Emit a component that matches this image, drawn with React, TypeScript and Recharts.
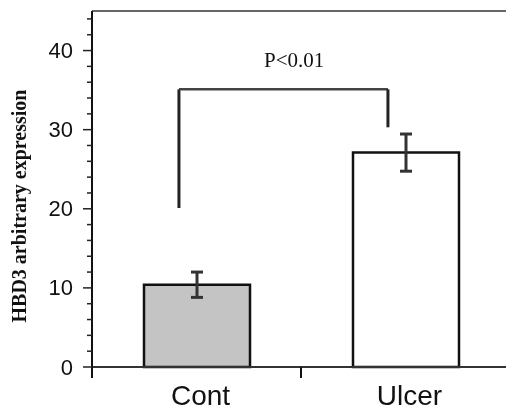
import React from 'react';
import { ComposedChart, Bar, XAxis, YAxis, ErrorBar, ReferenceLine, ReferenceDot, Cell } from 'recharts';

const categories = ['Cont', 'Ulcer'];
const means = [10.4, 27.1];
const errors = [1.6, 2.35];
const fills = ['#c4c4c4', '#ffffff'];
const yTicks = [0, 2, 4, 6, 8, 10, 12, 14, 16, 18, 20, 22, 24, 26, 28, 30, 32, 34, 36, 38, 40, 42, 44];
const majorTicks = [0, 10, 20, 30, 40];
const xTicks = [0, 0.5, 1, 1.5, 2];
// significance bracket (x on the 0..2 category scale, y values)
const bracketLeftX = 0.416;
const bracketRightX = 1.416;
const bracketTopY = 35.1;
const bracketLeftBottomY = 20.1;
const bracketRightBottomY = 30.3;
const pLabel = 'P<0.01';
const pLabelPos = { x: 0.967, y: 38.9 };
const yLabel = 'HBD3 arbitrary expression';

const data = categories.map((name, i) => ({ name, pos: i + 0.5, value: means[i], err: errors[i] }));

const YTick = (props: any) => {
  const { x, y, payload } = props;
  const major = majorTicks.includes(payload.value);
  return (
    <g>
      <line x1={x - (major ? 9 : 5)} y1={y} x2={x} y2={y} stroke="#222" strokeWidth={1.5} />
      {major && (
        <text x={x - 19} y={y} textAnchor="end" dominantBaseline="central" fontFamily="Liberation Sans, Arial, sans-serif" fontSize={22} fill="#111">
          {payload.value}
        </text>
      )}
    </g>
  );
};

const XTick = (props: any) => {
  const { x, y, payload } = props;
  const v = payload.value;
  if (Number.isInteger(v)) {
    return <line x1={x} y1={y} x2={x} y2={y + 11} stroke="#111" strokeWidth={2} />;
  }
  const name = categories[Math.floor(v)];
  return (
    <text x={x + 4} y={y + 38} textAnchor="middle" fontFamily="Liberation Sans, Arial, sans-serif" fontSize={28} fill="#111">
      {name}
    </text>
  );
};

export default function App() {
  return (
    <div style={{ position: 'fixed', left: 8, top: 8, width: 498, height: 403, overflow: 'hidden' }}>
      <ComposedChart width={502} height={403} data={data} margin={{ top: 3, right: 0, bottom: 0, left: 0 }}>
        <XAxis
          dataKey="pos"
          type="number"
          domain={[0, 2]}
          ticks={xTicks}
          interval={0}
          height={44}
          axisLine={{ stroke: '#333', strokeWidth: 2 }}
          tickLine={false}
          tickSize={0}
          tickMargin={0}
          tick={<XTick />}
        />
        <YAxis
          type="number"
          domain={[0, 45]}
          ticks={yTicks}
          interval={0}
          width={84}
          axisLine={{ stroke: '#111', strokeWidth: 2 }}
          tickLine={false}
          tickSize={0}
          tickMargin={0}
          tick={<YTick />}
          label={{
            content: () => (
              <text
                x={11}
                y={198}
                transform="rotate(-90 11 198)"
                textAnchor="middle"
                dominantBaseline="central"
                fontFamily="Liberation Serif, Times New Roman, serif"
                fontWeight="bold"
                fontSize={20}
                fill="#111"
              >
                {yLabel}
              </text>
            ),
          }}
        />
        <ReferenceLine y={45} stroke="#666" strokeWidth={2} />
        <Bar dataKey="value" barSize={106} stroke="#111" strokeWidth={2.5} isAnimationActive={false}>
          {data.map((d, i) => (
            <Cell key={d.name} fill={fills[i]} />
          ))}
          <ErrorBar dataKey="err" width={6} stroke="#333" strokeWidth={3} />
        </Bar>
        <ReferenceLine
          segment={[{ x: bracketLeftX, y: bracketLeftBottomY }, { x: bracketLeftX, y: bracketTopY }]}
          stroke="#222"
          strokeWidth={3}
        />
        <ReferenceLine
          segment={[{ x: bracketLeftX, y: bracketTopY }, { x: bracketRightX, y: bracketTopY }]}
          stroke="#444"
          strokeWidth={2.5}
        />
        <ReferenceLine
          segment={[{ x: bracketRightX, y: bracketTopY }, { x: bracketRightX, y: bracketRightBottomY }]}
          stroke="#222"
          strokeWidth={3}
        />
        <ReferenceDot
          x={pLabelPos.x}
          y={pLabelPos.y}
          r={1}
          fill="none"
          stroke="none"
          label={{ value: pLabel, position: 'center', fontFamily: 'Liberation Serif, Times New Roman, serif', fontSize: 21, fill: '#111' }}
        />
      </ComposedChart>
    </div>
  );
}
